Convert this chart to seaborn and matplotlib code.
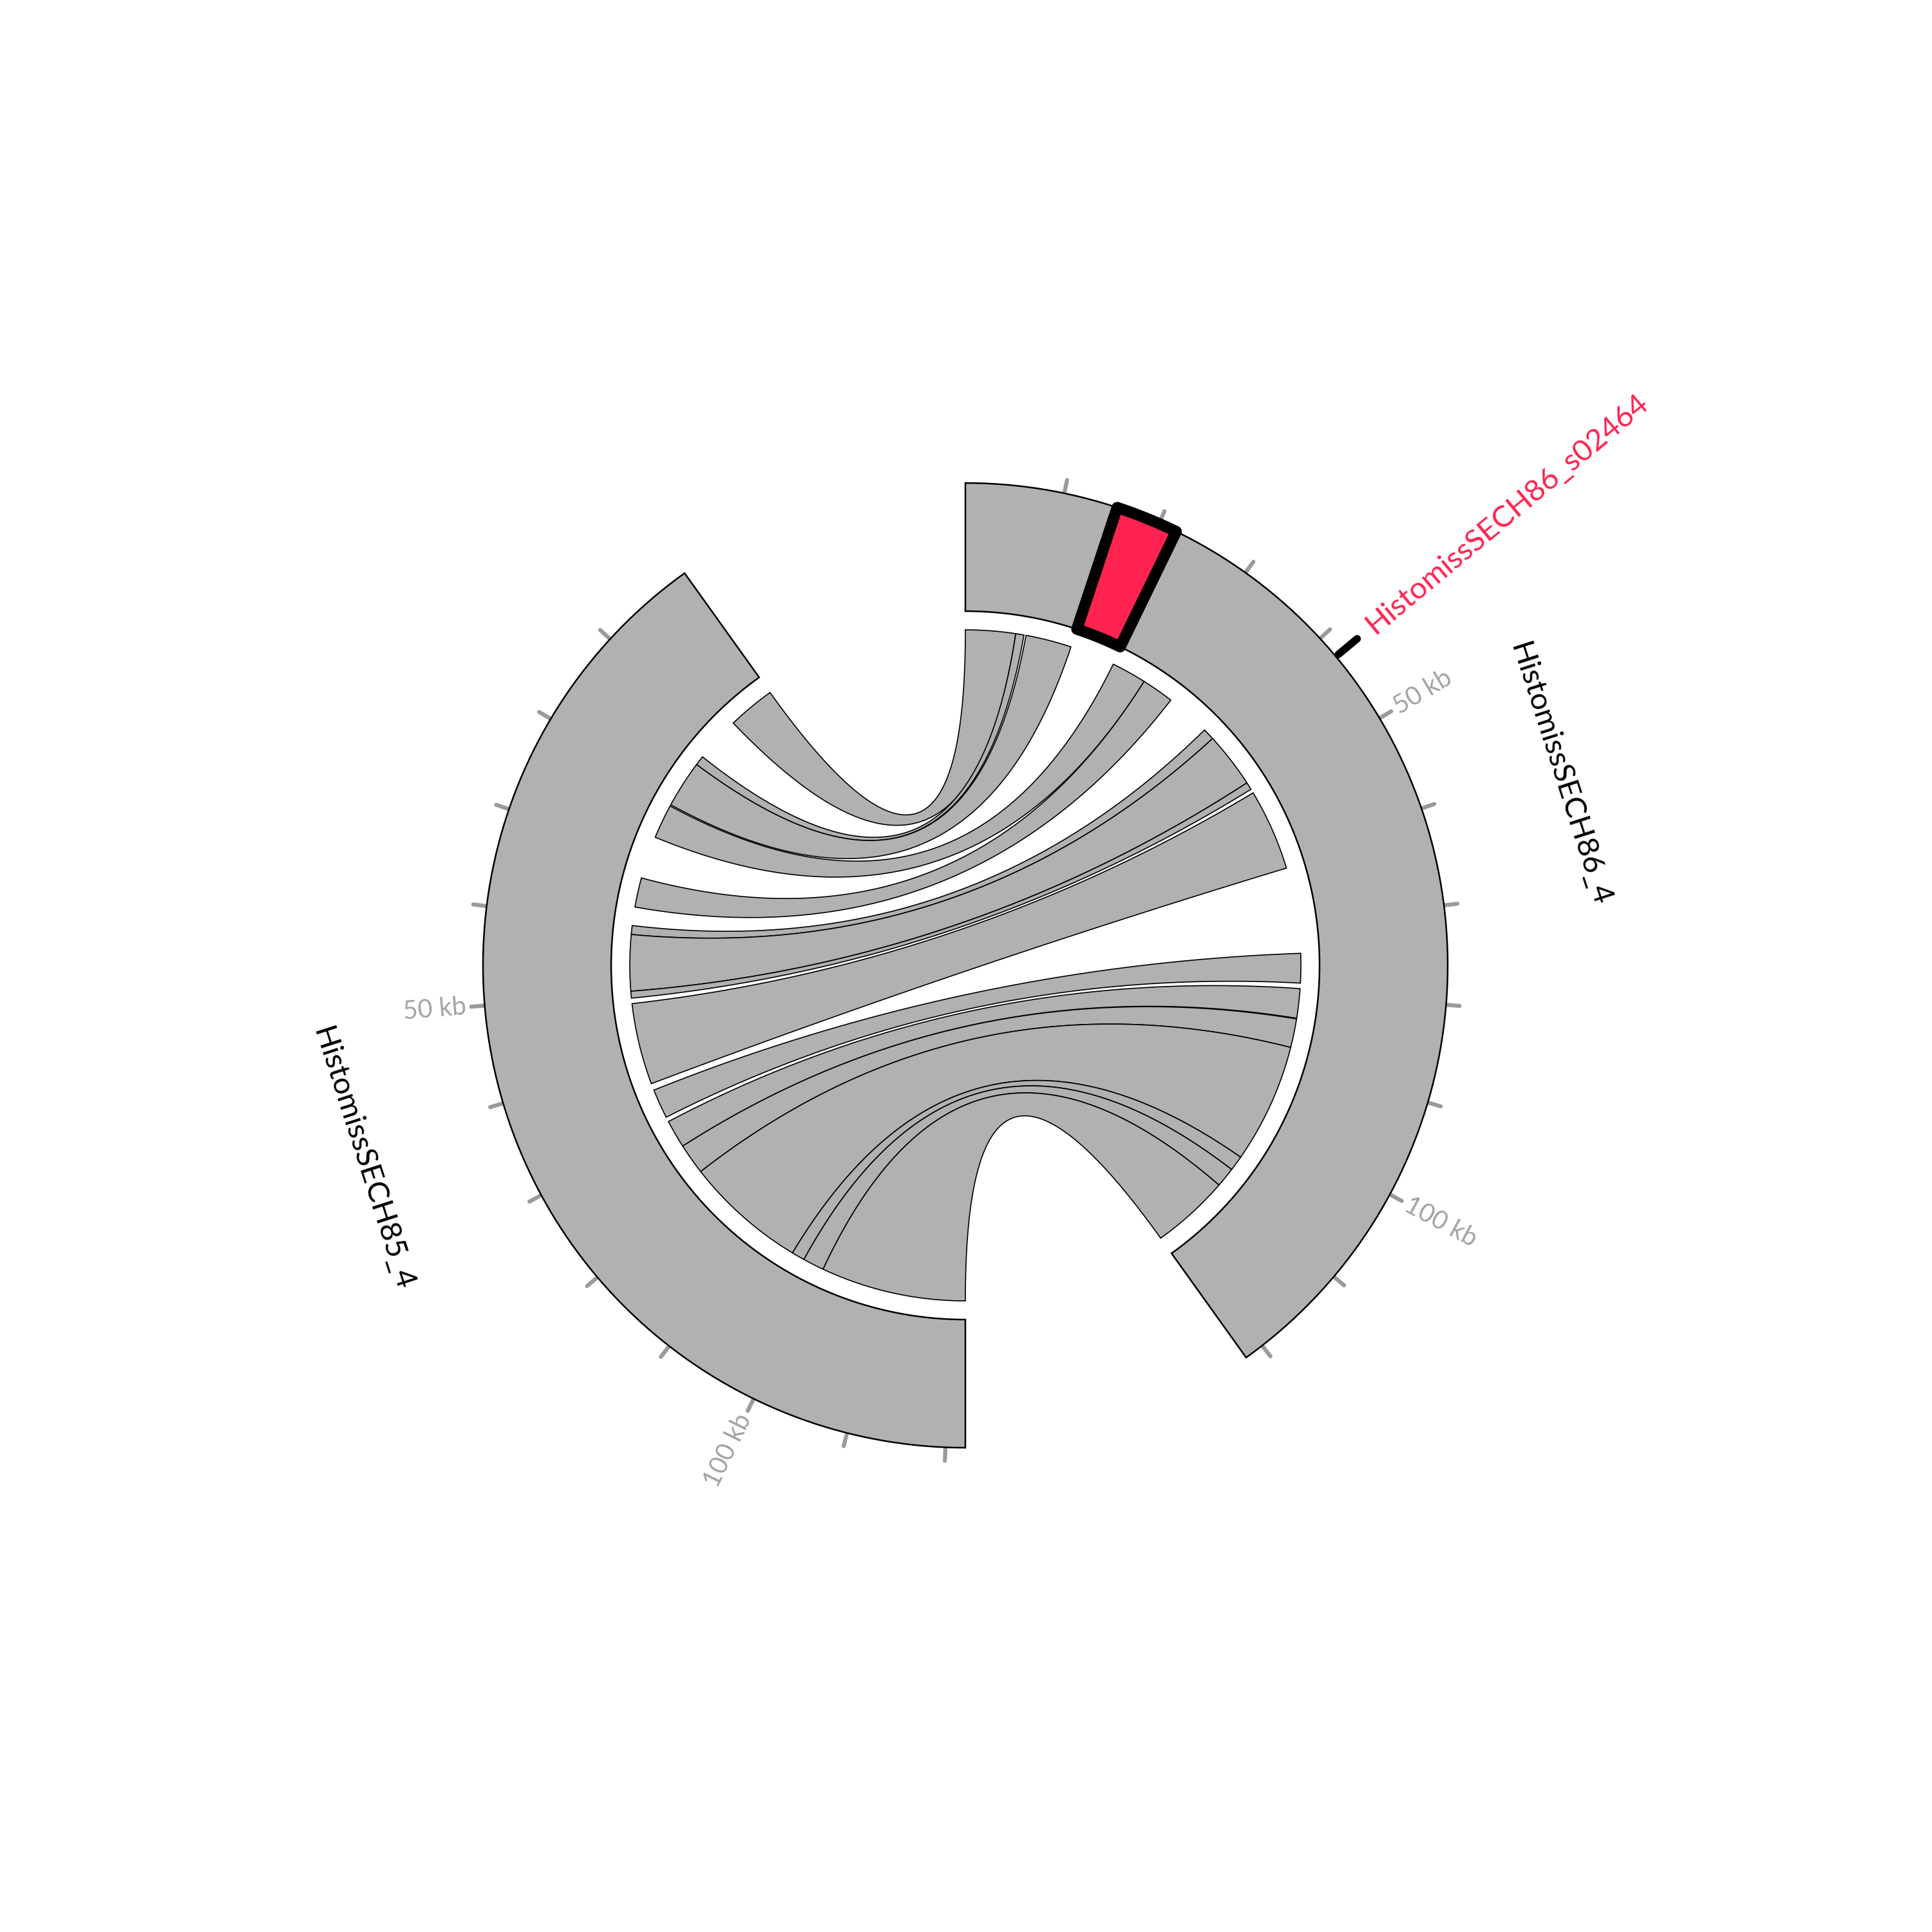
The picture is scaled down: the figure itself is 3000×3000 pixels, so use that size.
import numpy as np
import pandas as pd
import matplotlib
matplotlib.use("Agg")
import matplotlib.pyplot as plt
from matplotlib.patches import Polygon
import seaborn as sns

# two contigs, drawn as a circos-style plot; positions in kb
seg_names = ["HistomissSECH86_4", "HistomissSECH85_4"]
seg_lengths = [122.0, 122.0]
tick_kb = [10, 20, 30, 40, 50, 60, 70, 80, 90, 100, 110, 120]
tick_text = {50: "50 kb", 100: "100 kb"}

# synteny links: range on contig 1 <-> range on contig 2
s1_start = [0.0, 7.3, 8.8, 22.1, 27.2, 38.4, 40.1, 48.2, 49.9, 74.3, 79.4, 83.8, 88.0, 105.5, 107.7, 110.6]
s1_end = [7.3, 8.5, 15.5, 27.2, 31.9, 40.1, 48.2, 49.3, 61.8, 78.6, 83.7, 88.0, 105.5, 107.7, 110.6, 122.0]
s2_start = [0.0, 13.5, 14.9, 22.0, 33.2, 40.2, 41.5, 49.7, 51.5, 64.4, 69.4, 73.5, 78.0, 95.8, 97.7, 100.8]
s2_end = [6.9, 14.9, 21.8, 27.0, 37.5, 41.5, 49.7, 50.7, 63.4, 68.7, 73.5, 78.0, 95.8, 97.7, 100.8, 122.0]

# highlighted region on contig 1
hl_name = "HistomissSECH86_s02464"
hl_start, hl_end = 15.5, 21.9
hl_label_kb = 42.4

GAP = 35.6
R_OUT, R_IN, R_LINK = 749, 550, 521
K = (360 - 2 * GAP) / sum(seg_lengths)

TRACK = "#b2b1b2"
RED = "#ff2450"


def ang(seg, p):
    # degrees clockwise from 12 o'clock; second contig runs reversed
    if seg == 0:
        return p * K
    return 180 + (seg_lengths[1] - p) * K


def xy(theta, r):
    t = np.radians(theta)
    return np.column_stack([r * np.sin(t), r * np.cos(t)])


def arc(a0, a1, r, n=120):
    return xy(np.linspace(a0, a1, n), np.full(n, r))


def bezier(p0, p2, n=120):
    t = np.linspace(0, 1, n)[:, None]
    return (1 - t) ** 2 * p0 + t ** 2 * p2  # control point at centre


def band(a0, a1, r0, r1):
    return np.vstack([arc(a0, a1, r1), arc(a1, a0, r0)])


sns.set_theme(style="white")
plt.rcParams["font.family"] = ["Lato", "DejaVu Sans"]

fig = plt.figure(figsize=(10, 10), dpi=300)
ax = fig.add_axes([0, 0, 1, 1])
ax.set_xlim(-1499, 1501)
ax.set_ylim(-1501, 1499)
ax.set_aspect("equal")
ax.axis("off")

# outer tracks
for i, L in enumerate(seg_lengths):
    a0, a1 = sorted([ang(i, 0), ang(i, L)])
    ax.add_patch(Polygon(band(a0, a1, R_IN, R_OUT), closed=True, facecolor=TRACK,
                         edgecolor="black", linewidth=0.6, zorder=2))

# links
for a, b, c, d in zip(s1_start, s1_end, s2_start, s2_end):
    A1, A2 = ang(0, a), ang(0, b)
    B_hi, B_lo = ang(1, c), ang(1, d)
    pa1, pa2 = xy(A1, R_LINK)[0], xy(A2, R_LINK)[0]
    pb_lo, pb_hi = xy(B_lo, R_LINK)[0], xy(B_hi, R_LINK)[0]
    pts = np.vstack([arc(A1, A2, R_LINK), bezier(pa2, pb_lo),
                     arc(B_lo, B_hi, R_LINK), bezier(pb_hi, pa1)])
    ax.add_patch(Polygon(pts, closed=True, facecolor=TRACK, edgecolor="black",
                         linewidth=0.4, zorder=3))

# highlighted region
ax.add_patch(Polygon(band(ang(0, hl_start), ang(0, hl_end), R_IN, R_OUT), closed=True,
                     facecolor=RED, edgecolor="black", linewidth=4.2,
                     joinstyle="round", zorder=5))

# tick marks
rows = []
for i in range(2):
    for t in tick_kb:
        th = ang(i, t)
        for r in (744, 770):
            p = xy(th, r)[0]
            rows.append({"tick": f"{i}-{t}", "x": p[0], "y": p[1]})
ticks = pd.DataFrame(rows)
sns.lineplot(data=ticks, x="x", y="y", units="tick", estimator=None, sort=False,
             color="#9a9a9a", linewidth=1.5, solid_capstyle="round", legend=False,
             ax=ax, zorder=1)

# tick labels, radial
for i in range(2):
    for t, lab in tick_text.items():
        th = ang(i, t)
        p = xy(th, 778)[0]
        if th < 180:
            rot, ha = 90 - th, "left"
        else:
            rot, ha = 270 - th, "right"
        ax.text(p[0], p[1], lab, rotation=rot, rotation_mode="anchor", ha=ha,
                va="center", fontsize=9.5, color="#a3a3a3")

# contig names along the arc
for i, r in zip(range(2), (969, 983)):
    th = ang(i, seg_lengths[i] / 2)
    p = xy(th, r)[0]
    rot = -th
    while rot < -90:
        rot += 180
    ax.text(p[0], p[1], seg_names[i], rotation=rot, rotation_mode="anchor",
            ha="center", va="center", fontsize=11.3, color="black")

# highlight label with marker
th = ang(0, hl_label_kb)
m = xy(np.array([th, th]), np.array([754, 792]))
ax.plot(m[:, 0], m[:, 1], color="black", linewidth=2.8, solid_capstyle="round", zorder=6)
p = xy(th, 818)[0]
ax.text(p[0], p[1], hl_name, rotation=90 - th, rotation_mode="anchor", ha="left",
        va="center", fontsize=11.3, color=RED)

fig.savefig("out.png", dpi=300, facecolor="white")
